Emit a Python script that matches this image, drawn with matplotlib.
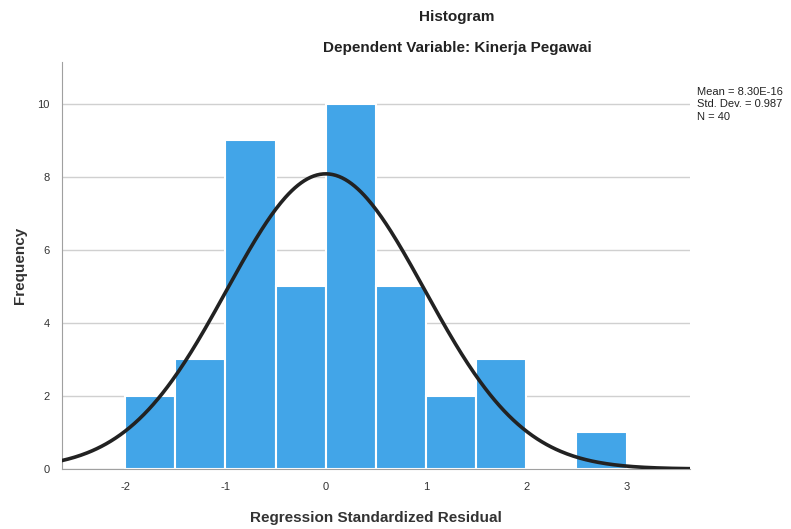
import numpy as np
import matplotlib.pyplot as plt

bin_edges = [-2.0, -1.5, -1.0, -0.5, 0.0, 0.5, 1.0, 1.5, 2.0, 2.5, 3.0]
counts = [2, 3, 9, 5, 10, 5, 2, 3, 0, 1]
mean = 8.30e-16
std_dev = 0.987
n_obs = 40

plt.rcParams['font.family'] = ['Liberation Sans', 'DejaVu Sans']
plt.rcParams['axes.unicode_minus'] = False

fig = plt.figure(figsize=(7.91, 5.29), dpi=100)
ax = fig.add_axes([0.0784, 0.1134, 0.7936, 0.7696])

lefts = np.array(bin_edges[:-1])
widths = np.diff(bin_edges)
ax.bar(lefts, counts, width=widths, align='edge', color='#42A5E8',
       edgecolor='white', linewidth=1.5, zorder=2)

# curva normal ajustada
xs = np.linspace(-2.63, 3.63, 400)
pdf = np.exp(-0.5 * ((xs - mean) / std_dev) ** 2) / (std_dev * np.sqrt(2 * np.pi))
ax.plot(xs, n_obs * 0.5 * pdf, color='#222222', linewidth=2.6, zorder=3)

ax.set_xlim(-2.63, 3.63)
ax.set_ylim(0, 11.15)
ax.set_yticks([0, 2, 4, 6, 8, 10])
ax.set_xticks([-2, -1, 0, 1, 2, 3])
ax.tick_params(length=0, labelsize=8, colors='#333333', pad=9)
ax.yaxis.grid(True, color='#D0D0D0', linewidth=1, zorder=0)
ax.set_axisbelow(True)
for s in ['top', 'right']:
    ax.spines[s].set_visible(False)
for s in ['left', 'bottom']:
    ax.spines[s].set_color('#A0A0A0')

ax.set_xlabel('Regression Standardized Residual', fontsize=11, fontweight='bold',
              color='#333333', labelpad=14)
ax.set_ylabel('Frequency', fontsize=11, fontweight='bold', color='#333333', labelpad=7)

fig.text(0.578, 0.968, 'Histogram', ha='center', va='center', fontsize=11,
         fontweight='bold', color='#222222')
fig.text(0.578, 0.909, 'Dependent Variable: Kinerja Pegawai', ha='center', va='center',
         fontsize=11, fontweight='bold', color='#222222')
fig.text(0.881, 0.803, 'Mean = 8.30E-16\nStd. Dev. = 0.987\nN = 40', ha='left', va='center',
         fontsize=8, color='#222222', linespacing=1.3,
         family=['Liberation Sans Narrow', 'Liberation Sans', 'DejaVu Sans'])

plt.savefig('out.png', dpi=100)
